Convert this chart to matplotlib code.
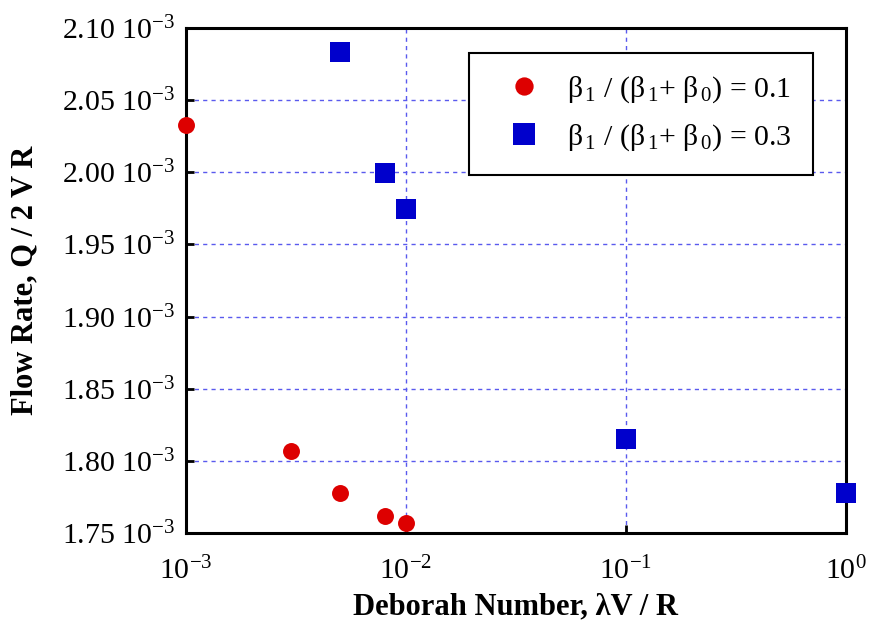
import matplotlib
matplotlib.use("Agg")
import matplotlib.pyplot as plt
from matplotlib.ticker import FixedLocator, FixedFormatter

plt.rcParams['font.family'] = ['Liberation Serif', 'DejaVu Serif']
plt.rcParams['mathtext.fontset'] = 'custom'
plt.rcParams['mathtext.rm'] = 'Liberation Serif'
plt.rcParams['mathtext.it'] = 'Liberation Serif:italic'
plt.rcParams['mathtext.bf'] = 'Liberation Serif:bold'
plt.rcParams['mathtext.default'] = 'regular'

# Data (Deborah number, flow rate)
de_01 = [0.001, 0.003, 0.005, 0.008, 0.01]
q_01 = [2.033e-3, 1.8067e-3, 1.7775e-3, 1.7616e-3, 1.7567e-3]
de_03 = [0.005, 0.008, 0.01, 0.1, 1.0]
q_03 = [2.0831e-3, 1.9995e-3, 1.9743e-3, 1.815e-3, 1.7775e-3]

label_01 = "β$_{\\,1}$ / (β$_{\\,1}$+ β$_{\\,0}$) = 0.1"
label_03 = "β$_{\\,1}$ / (β$_{\\,1}$+ β$_{\\,0}$) = 0.3"

y_ticks = [1.75e-3, 1.80e-3, 1.85e-3, 1.90e-3, 1.95e-3, 2.00e-3, 2.05e-3, 2.10e-3]
y_tick_labels = ["1.75 10$^{-3}$", "1.80 10$^{-3}$", "1.85 10$^{-3}$", "1.90 10$^{-3}$",
                 "1.95 10$^{-3}$", "2.00 10$^{-3}$", "2.05 10$^{-3}$", "2.10 10$^{-3}$"]
x_ticks = [1e-3, 1e-2, 1e-1, 1e0]
x_tick_labels = ["10$^{-3}$", "10$^{-2}$", "10$^{-1}$", "10$^{0}$"]

fig = plt.figure(figsize=(8.7, 6.2), dpi=100)
ax = fig.add_axes([0.2138, 0.1403, 0.7586, 0.8145])

ax.plot(de_01, q_01, linestyle='none', marker='o', markersize=12.2,
        color='#dd0000', markeredgewidth=0, label=label_01, clip_on=False, zorder=5)
ax.plot(de_03, q_03, linestyle='none', marker='s', markersize=14.4,
        color='#0000cc', markeredgewidth=0, label=label_03, clip_on=False, zorder=5)

ax.set_xscale('log')
ax.set_xlim(1e-3, 1e0)
ax.set_ylim(1.75e-3, 2.10e-3)

ax.xaxis.set_major_locator(FixedLocator(x_ticks))
ax.xaxis.set_major_formatter(FixedFormatter(x_tick_labels))
ax.xaxis.set_minor_locator(FixedLocator([]))
ax.yaxis.set_major_locator(FixedLocator(y_ticks))
ax.yaxis.set_major_formatter(FixedFormatter(y_tick_labels))

ax.grid(True, which='major', color='#5a5aee', linestyle=(0, (3, 3)), linewidth=1.0)
ax.set_axisbelow(True)

ax.tick_params(axis='both', which='major', direction='in', length=6, width=2,
               labelsize=21.5, pad=8)
ax.tick_params(axis='x', pad=17)
for s in ax.spines.values():
    s.set_linewidth(2.2)

ax.set_xlabel("Deborah Number, λV / R", fontsize=22, fontweight='bold', labelpad=5)
ax.set_ylabel("Flow Rate, Q / 2 V R", fontsize=22, fontweight='bold', labelpad=16)

leg = ax.legend(loc='upper left', bbox_to_anchor=(0.4288, 0.9505), fontsize=21.5,
                frameon=True, fancybox=False, edgecolor='black', framealpha=1,
                borderpad=0.72, handlelength=2.25, handletextpad=0.3,
                labelspacing=0.58, borderaxespad=0, markerscale=1.08)
leg.get_frame().set_linewidth(1.5)

fig.savefig("out.png", dpi=100)
